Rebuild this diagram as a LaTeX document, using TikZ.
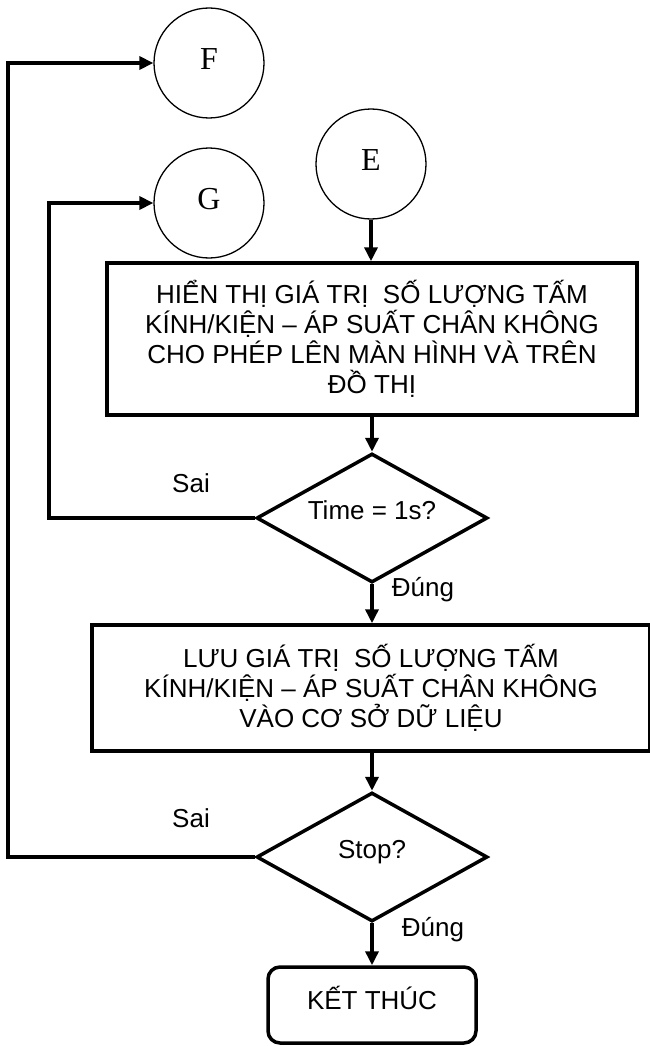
\documentclass[tikz,border=0pt]{standalone}
\usepackage{fontspec}
\setmainfont{Liberation Sans}
\newfontfamily\circfont{Liberation Serif}
\usetikzlibrary{shapes.geometric,arrows.meta}
\begin{document}
\begin{tikzpicture}[x=1pt,y=-1pt,
  conn/.style={line width=3.5pt,-{Triangle[length=14pt,width=13pt]}},
  conncirc/.style={draw,circle,line width=1.3pt,minimum size=110pt,inner sep=0pt,
     font=\circfont\fontsize{32}{32}\selectfont,text height=21.7pt,text depth=8pt},
  procbox/.style={draw,rectangle,line width=3.5pt,inner sep=0pt,align=center,
     font=\fontsize{26}{30}\selectfont},
  decision/.style={draw,diamond,line width=3.5pt,inner sep=0pt,aspect=1.79,
     minimum width=231pt,minimum height=129pt,
     font=\fontsize{26}{30}\selectfont,text height=19pt,text depth=16pt},
  endbox/.style={draw,rectangle,rounded corners=12pt,line width=3.5pt,
     minimum width=208pt,minimum height=76pt,inner sep=0pt,
     font=\fontsize{26}{30}\selectfont,text height=19pt,text depth=10pt},
  lbl/.style={font=\fontsize{26}{30}\selectfont,inner sep=0pt}]
\useasboundingbox (0,0) rectangle (650,1046);

\node[conncirc] (f) at (209,63) {F};
\node[conncirc] (g) at (209,203) {G};
\node[conncirc] (e) at (371,164) {E};

\node[procbox,minimum width=530pt,minimum height=152pt] (b1) at (372,339)
  {HIỂN THỊ GIÁ TRỊ\ \ SỐ LƯỢNG TẤM\\KÍNH/KIỆN – ÁP SUẤT CHÂN KHÔNG\\CHO PHÉP LÊN MÀN HÌNH VÀ TRÊN\\ĐỒ THỊ};

\node[decision] (d1) at (372,518) {Time = 1s?};

\node[procbox,minimum width=558pt,minimum height=126pt] (b2) at (371,688)
  {LƯU GIÁ TRỊ\ \ SỐ LƯỢNG TẤM\\KÍNH/KIỆN – ÁP SUẤT CHÂN KHÔNG\\VÀO CƠ SỞ DỮ LIỆU};

\node[decision] (d2) at (372,857) {Stop?};

\node[endbox] (end) at (372,1005) {KẾT THÚC};

\coordinate (gc) at (49,518);
\coordinate (fc) at (8,857);

\draw[conn] (e.south) -- (e.south |- b1.north);
\draw[conn] (d1.north |- b1.south) -- (d1.north);
\draw[conn] (d1.south) -- (d1.south |- b2.north);
\draw[conn] (d2.north |- b2.south) -- (d2.north);
\draw[conn] (d2.south) -- (end.north);
\draw[conn] (d1.west) -- (gc) |- (g.west);
\draw[conn] (d2.west) -- (fc) |- (f.west);

\node[lbl] (sai1) at (191,483) {Sai};
\node[lbl] (dung1) at (423,590) {Đúng};
\node[lbl] (sai2) at (191,818) {Sai};
\node[lbl] (dung2) at (433,930) {Đúng};
\end{tikzpicture}
\end{document}
